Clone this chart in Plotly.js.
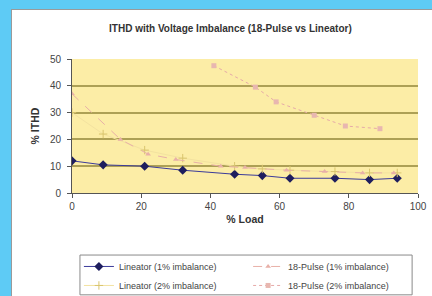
<!DOCTYPE html>
<html>
<head>
<meta charset="utf-8">
<script src="https://cdn.plot.ly/plotly-3.0.1.min.js"></script>
<style>
html,body{margin:0;padding:0;background:#5ECBF5;width:432px;height:296px;overflow:hidden;}
#frame{position:absolute;left:11px;top:9px;width:420px;height:286px;background:#fff;border-left:1px solid #9a9a9a;border-top:1px solid #9a9a9a;}
#chart{width:420px;height:286px;}
</style>
</head>
<body>
<div id="frame"><div id="chart"></div></div>
<script>
// Data
const lin1Load = [0, 9, 21, 32, 47, 55, 63, 76, 86, 94];
const lin1Thd  = [12, 10.5, 10, 8.5, 7, 6.5, 5.5, 5.5, 5, 5.5];
const lin2Load = [0, 9, 21, 32, 47, 55, 63, 76, 86, 94];
const lin2Thd  = [30, 22, 16, 13, 10, 9, 8.5, 8, 7.5, 7.5];
const p1Load = [0, 14, 22, 30, 43, 50, 62, 73, 84, 93];
const p1Thd  = [37, 20, 14.5, 12.5, 10, 9.5, 8.5, 8, 7.5, 7.5];
const p2Load = [41, 53, 59, 70, 79, 89];
const p2Thd  = [47.5, 39.5, 34, 29, 25, 24];
const xTicks = [0, 20, 40, 60, 80, 100];
const yTicks = [0, 10, 20, 30, 40, 50];

const traces = [
  {x: lin1Load, y: lin1Thd, name: 'Lineator (1% imbalance)', mode: 'lines+markers', legend: 'legend',
   line: {color: '#3b3b9a', width: 1}, marker: {symbol: 'diamond', size: 7, color: '#1e1e5e'}},
  {x: lin2Load, y: lin2Thd, name: 'Lineator (2% imbalance)', mode: 'lines+markers', legend: 'legend',
   line: {color: '#f3e2a0', width: 1}, marker: {symbol: 'cross-thin', size: 6, color: '#d9c56e', line: {color: '#d9c56e', width: 1}}},
  {x: p1Load, y: p1Thd, name: '18-Pulse (1% imbalance)', mode: 'lines+markers', legend: 'legend2',
   line: {color: '#e8b0a8', width: 1, dash: 'dash'}, marker: {symbol: 'triangle-up', size: 5, color: '#e8b0a8'}},
  {x: p2Load, y: p2Thd, name: '18-Pulse (2% imbalance)', mode: 'lines+markers', legend: 'legend2',
   line: {color: '#e6aaa8', width: 1, dash: 'dot'}, marker: {symbol: 'square', size: 5, color: '#e8b7b0'}}
];

const legendBase = {y: -0.44, yanchor: 'top', xanchor: 'left', bgcolor: 'rgba(0,0,0,0)', borderwidth: 0,
                    font: {size: 9, color: '#444'}, itemwidth: 30, tracegroupgap: 0};

const layout = {
  width: 420, height: 286,
  margin: {l: 60, r: 14, t: 49, b: 103, autoexpand: false},
  paper_bgcolor: '#ffffff',
  plot_bgcolor: '#FCEDA6',
  font: {family: 'Liberation Sans, Arial, sans-serif', size: 10, color: '#333'},
  title: {text: '<b>ITHD with Voltage Imbalance (18-Pulse vs Lineator)</b>', x: 0.52, xanchor: 'center', y: 0.935, yanchor: 'middle', font: {size: 10, color: '#333'}},
  xaxis: {range: [0, 100], tickvals: xTicks, ticks: 'outside', ticklen: 4, tickcolor: '#555',
          showline: true, linecolor: '#555', linewidth: 1, showgrid: false, zeroline: false,
          tickfont: {size: 10, color: '#444'},
          title: {text: '<b>% Load</b>', standoff: 4, font: {size: 10.5}}},
  yaxis: {range: [0, 50], tickvals: yTicks, ticks: 'outside', ticklen: 4, tickcolor: '#555',
          showline: true, linecolor: '#555', linewidth: 1, gridcolor: '#ADA055', gridwidth: 2, zeroline: false,
          tickfont: {size: 10, color: '#444'}, ticklabelstandoff: 4,
          title: {text: '<b>% ITHD</b>', standoff: 8, font: {size: 10.5}}},
  showlegend: true,
  legend: Object.assign({x: 0.02}, legendBase),
  legend2: Object.assign({x: 0.509}, legendBase),
  shapes: [{type: 'rect', xref: 'paper', yref: 'paper', x0: 0.023, x1: 0.983, y0: -0.463, y1: -0.76,
            line: {color: '#8a8a8a', width: 1}, fillcolor: 'rgba(0,0,0,0)'}]
};
Plotly.newPlot('chart', traces, layout, {displayModeBar: false, staticPlot: true});
</script>
</body>
</html>
